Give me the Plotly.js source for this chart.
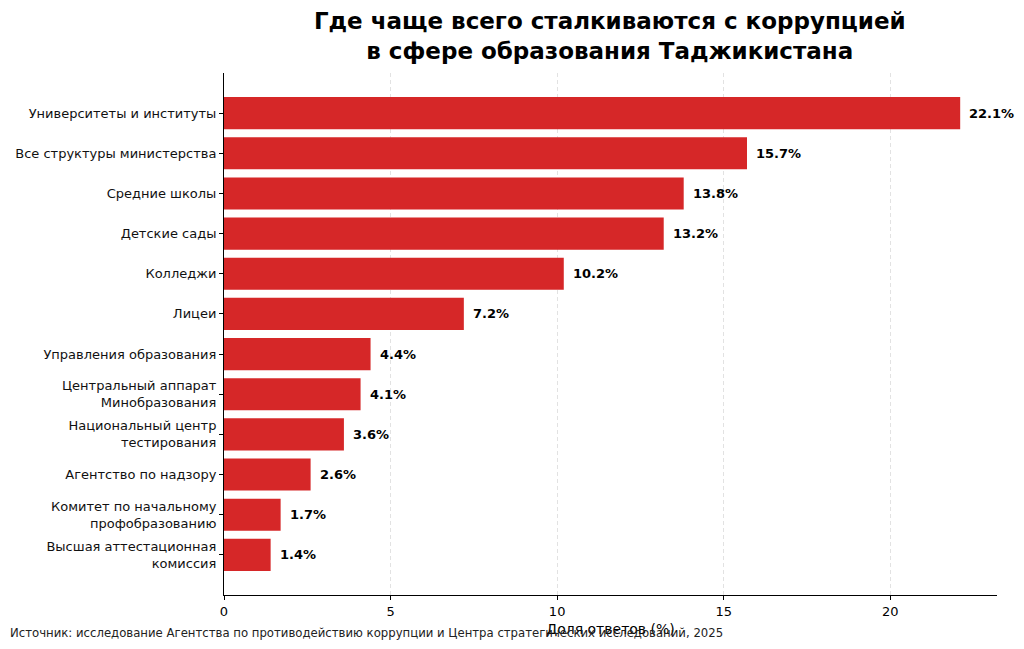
<!DOCTYPE html>
<html>
<head>
<meta charset="utf-8">
<script src="https://cdn.plot.ly/plotly-3.0.1.min.js"></script>
<style>
  html, body { margin: 0; padding: 0; background: #fff; }
  #chart { width: 1024px; height: 649px; }
</style>
</head>
<body>
<div id="chart"></div>
<script>
// categories, top to bottom
const categories = [
  'Университеты и институты',
  'Все структуры министерства',
  'Средние школы',
  'Детские сады',
  'Колледжи',
  'Лицеи',
  'Управления образования',
  'Центральный аппарат<br>Минобразования',
  'Национальный центр<br>тестирования',
  'Агентство по надзору',
  'Комитет по начальному<br>профобразованию',
  'Высшая аттестационная<br>комиссия'
];
const shares = [22.1, 15.7, 13.8, 13.2, 10.2, 7.2, 4.4, 4.1, 3.6, 2.6, 1.7, 1.4];
const xTicks = [0, 5, 10, 15, 20];

const font = 'DejaVu Sans, sans-serif';
const red = '#d62728';

const ypos = categories.map((c, i) => i);

const trace = {
  type: 'bar',
  orientation: 'h',
  x: shares,
  y: ypos,
  width: 0.8,
  marker: {color: red},
  hoverinfo: 'x'
};

const labels = shares.map((v, i) => ({
  x: v, y: i, xref: 'x', yref: 'y',
  text: '<b>' + v.toFixed(1) + '%</b>',
  showarrow: false, xanchor: 'left', xshift: 7,
  font: {family: font, size: 13, color: '#000'}
}));

labels.push({
  xref: 'paper', yref: 'paper', x: -216 / 773, y: -0.09,
  xanchor: 'left', yanchor: 'bottom', showarrow: false,
  text: 'Источник: исследование Агентства по противодействию коррупции и Центра стратегических исследований, 2025',
  font: {family: font, size: 11.7, color: '#222'}
});

const layout = {
  width: 1024, height: 649,
  margin: {l: 224, r: 27, t: 73, b: 54},
  paper_bgcolor: '#fff', plot_bgcolor: '#fff',
  showlegend: false,
  bargap: 0.2,
  title: {
    text: '<b>Где чаще всего сталкиваются с коррупцией<br>в сфере образования Таджикистана</b>',
    font: {family: font, size: 23, color: '#000'},
    x: 0.5955, xanchor: 'center', y: 0.955, yanchor: 'top'
  },
  xaxis: {
    range: [0, 23.205],
    tickvals: xTicks,
    ticks: 'outside', ticklen: 4, tickcolor: '#000',
    showline: true, linecolor: '#000', linewidth: 1,
    showgrid: true, gridcolor: '#e2e2e2', griddash: '4px,3px', gridwidth: 1,
    zeroline: false,
    tickfont: {family: font, size: 13, color: '#000'},
    title: {text: 'Доля ответов (%)', font: {family: font, size: 14, color: '#000'}, standoff: 6}
  },
  yaxis: {
    range: [12, -1],
    tickvals: ypos,
    ticktext: categories,
    ticks: 'outside', ticklen: 4, tickcolor: '#000',
    showline: true, linecolor: '#000', linewidth: 1,
    showgrid: false, zeroline: false,
    tickfont: {family: font, size: 13, color: '#111'}
  },
  annotations: labels
};

Plotly.newPlot('chart', [trace], layout, {displayModeBar: false, staticPlot: true});
</script>
</body>
</html>
